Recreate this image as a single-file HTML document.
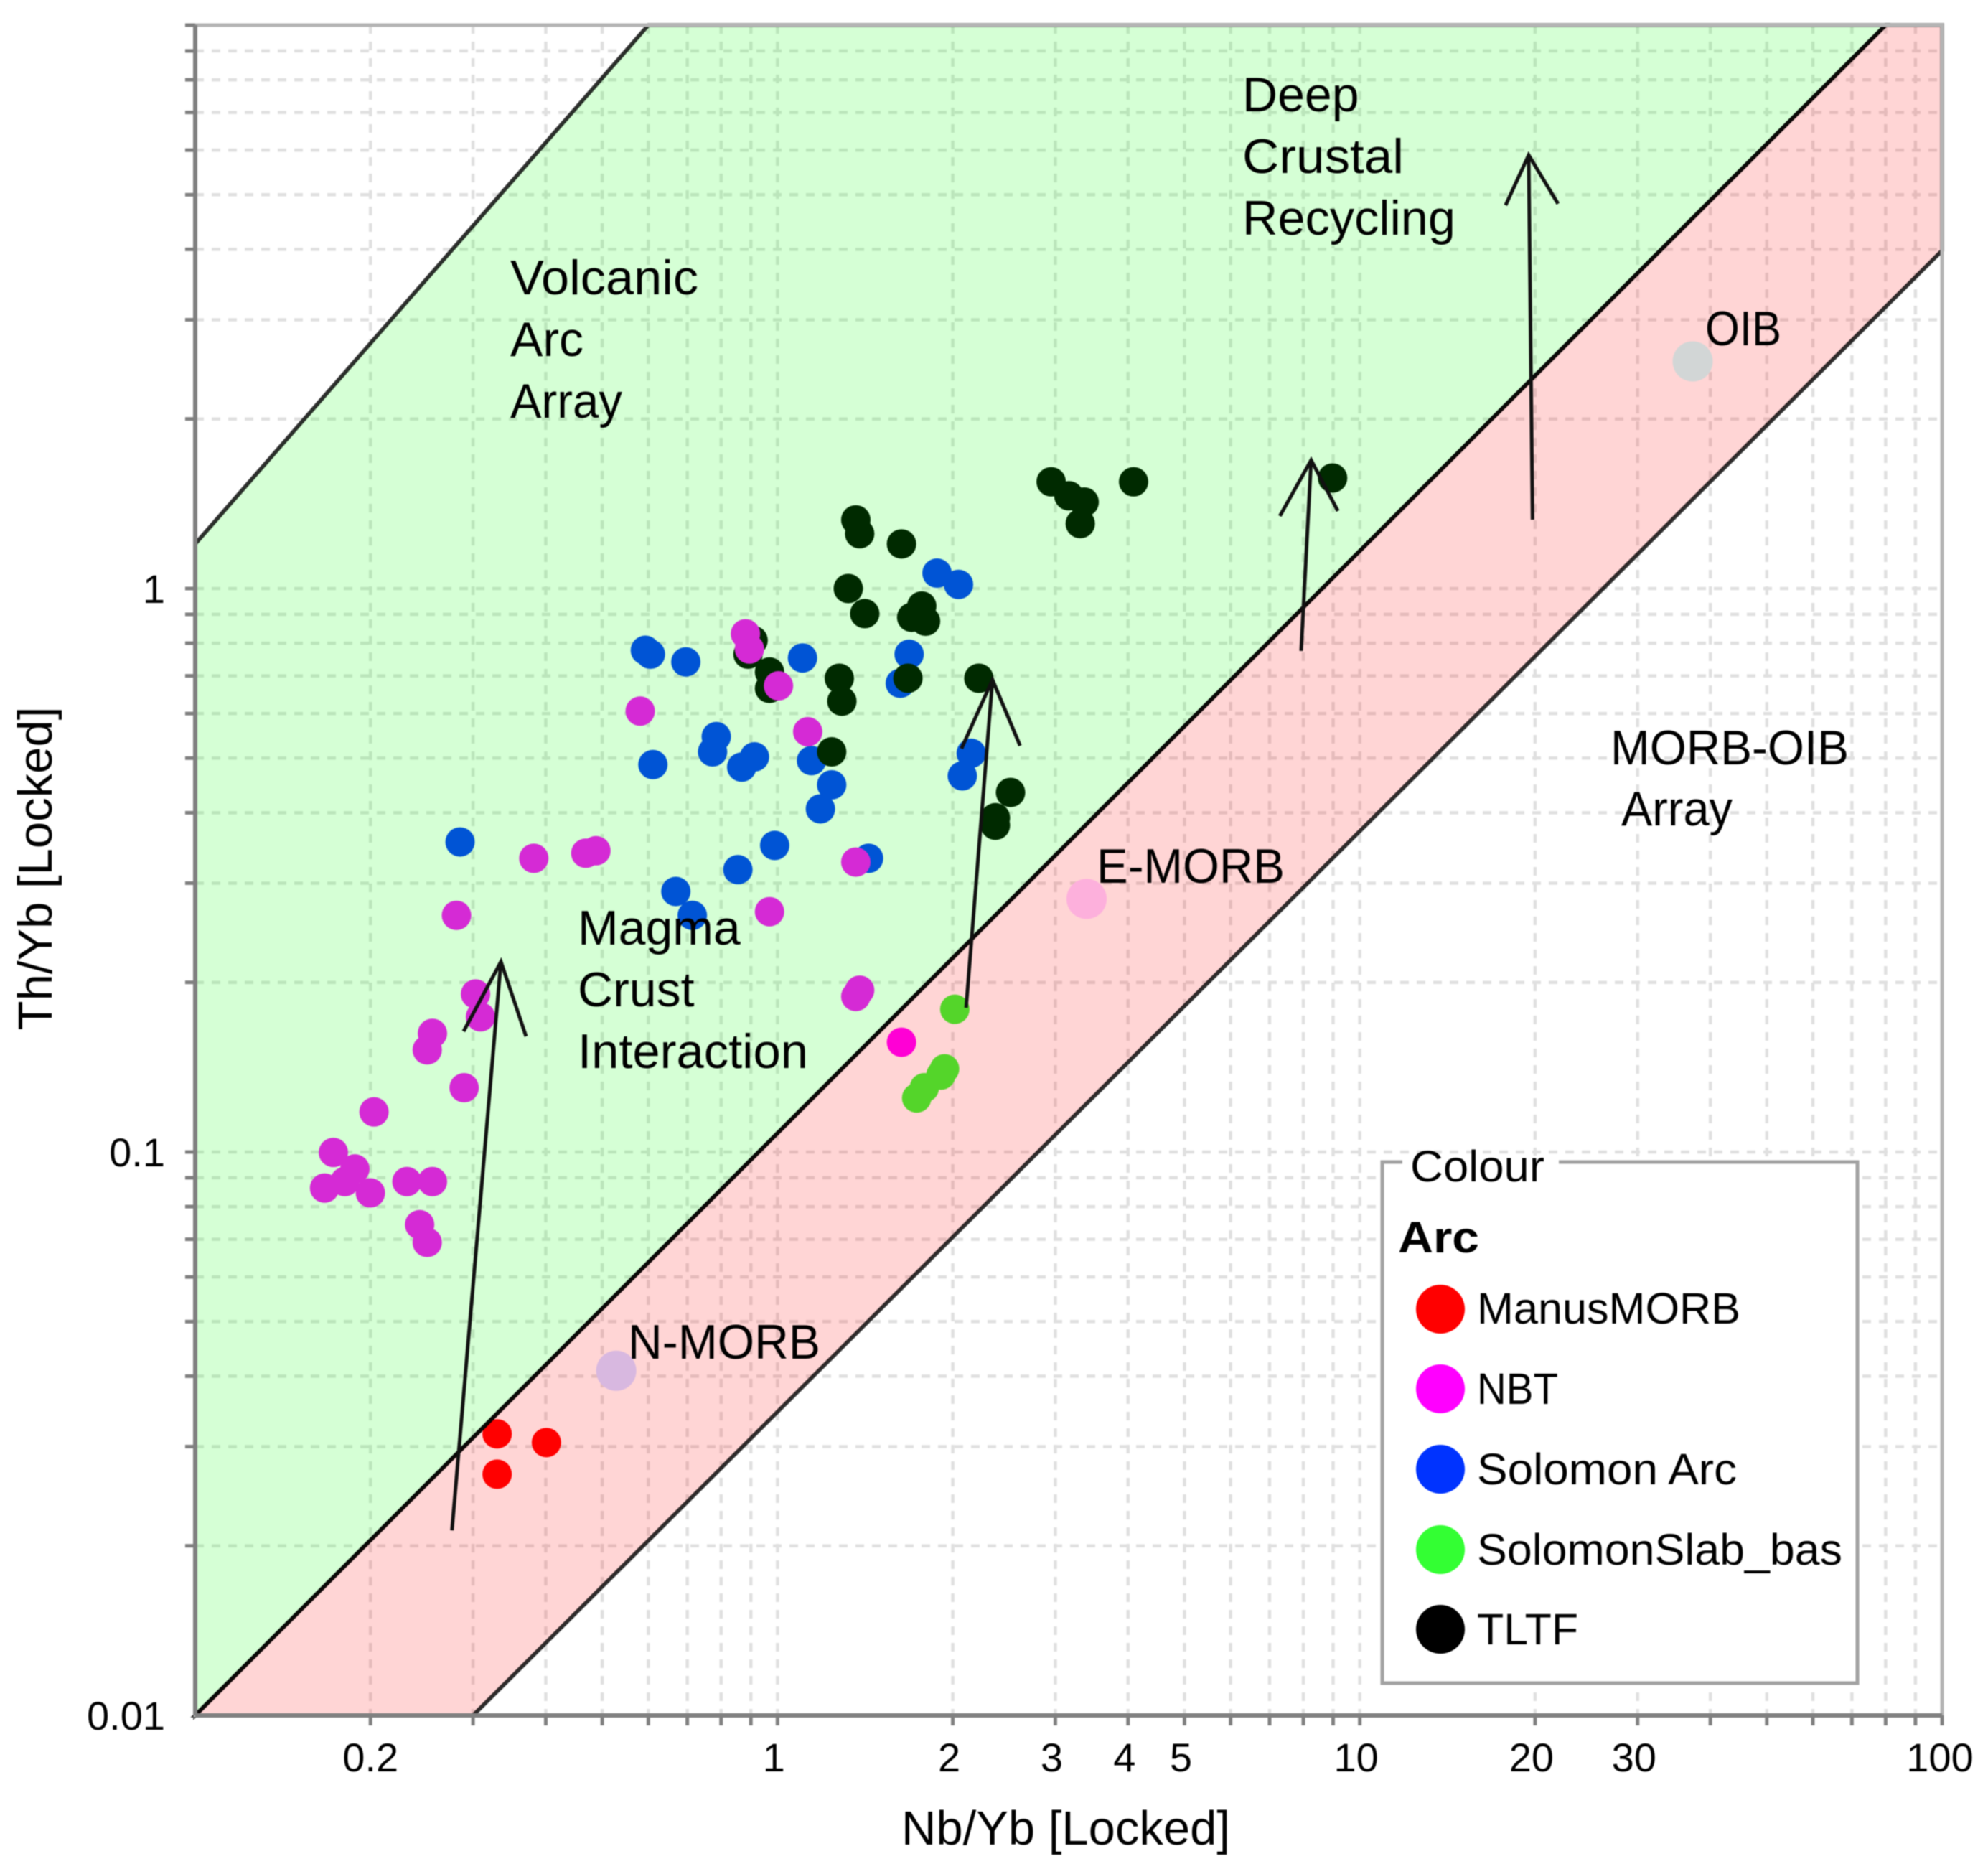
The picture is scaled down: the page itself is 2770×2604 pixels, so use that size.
<!DOCTYPE html>
<html lang="en">
<head>
<meta charset="utf-8">
<title>Th/Yb vs Nb/Yb discrimination diagram</title>
<style>
html,body{margin:0;padding:0;background:#fff;}
svg{display:block;width:2770px;height:2604px;font-family:"Liberation Sans",Arial,sans-serif;fill:#000;}
#root{filter:blur(0.8px);}
</style>
</head>
<body>
<svg id="chart" xmlns="http://www.w3.org/2000/svg" width="2770" height="2604" viewBox="0 0 2770 2604">
<g id="root">
<rect width="2770" height="2604" fill="#fff"/>
<g id="grid"></g>
<g id="points"></g>
<g id="regions"></g>
<g id="frame"></g>
<g id="refs"></g>
<g id="arrows"></g>

<g font-size="68">
  <text x="711" y="410" textLength="262" lengthAdjust="spacingAndGlyphs">Volcanic</text>
  <text x="711" y="496">Arc</text>
  <text x="711" y="582" textLength="156" lengthAdjust="spacingAndGlyphs">Array</text>
  <text x="1731" y="155">Deep</text>
  <text x="1731" y="241" textLength="225" lengthAdjust="spacingAndGlyphs">Crustal</text>
  <text x="1731" y="327" textLength="297" lengthAdjust="spacingAndGlyphs">Recycling</text>
  <text x="805" y="1316">Magma</text>
  <text x="805" y="1402">Crust</text>
  <text x="805" y="1488" textLength="321" lengthAdjust="spacingAndGlyphs">Interaction</text>
  <text x="875" y="1893" textLength="268" lengthAdjust="spacingAndGlyphs">N-MORB</text>
  <text x="1528" y="1230" textLength="262" lengthAdjust="spacingAndGlyphs">E-MORB</text>
  <text x="2376" y="481" textLength="106" lengthAdjust="spacingAndGlyphs">OIB</text>
  <text x="2244" y="1065" textLength="332" lengthAdjust="spacingAndGlyphs">MORB-OIB</text>
  <text x="2259" y="1150" textLength="155" lengthAdjust="spacingAndGlyphs">Array</text>
</g>

<g id="ticklabels" font-size="56"></g>

<text x="1485" y="2570" font-size="67" text-anchor="middle">Nb/Yb [Locked]</text>
<text transform="translate(72,1210) rotate(-90)" font-size="67" text-anchor="middle">Th/Yb [Locked]</text>

<g>
  <rect x="1926" y="1619" width="662" height="726" fill="#fff" stroke="#a2a2a2" stroke-width="5"/>
  <rect x="1954" y="1610" width="218" height="18" fill="#fff"/>
  <text x="1965" y="1646" font-size="61" textLength="187" lengthAdjust="spacingAndGlyphs">Colour</text>
  <text x="1948" y="1745" font-size="61" font-weight="bold" textLength="113" lengthAdjust="spacingAndGlyphs">Arc</text>
  <circle cx="2007" cy="1824" r="34" fill="#ff0000"/>
  <text x="2058" y="1844" font-size="61" textLength="367" lengthAdjust="spacingAndGlyphs">ManusMORB</text>
  <circle cx="2007" cy="1935" r="34" fill="#ff00ff"/>
  <text x="2058" y="1956" font-size="61" textLength="113" lengthAdjust="spacingAndGlyphs">NBT</text>
  <circle cx="2007" cy="2047" r="34" fill="#0033ff"/>
  <text x="2058" y="2068" font-size="61" textLength="362" lengthAdjust="spacingAndGlyphs">Solomon Arc</text>
  <circle cx="2007" cy="2159" r="34" fill="#33ff33"/>
  <text x="2058" y="2180" font-size="61" textLength="509" lengthAdjust="spacingAndGlyphs">SolomonSlab_bas</text>
  <circle cx="2007" cy="2270" r="34" fill="#000000"/>
  <text x="2058" y="2291" font-size="61">TLTF</text>
</g>
</g>
</svg>

<script>
// ---- axis ticks ----
const xGridValues = [0.2,0.3,0.4,0.5,0.6,0.7,0.8,0.9,1,2,3,4,5,6,7,8,9,10,20,30,40,50,60,70,80,90,100];
const yGridValues = [0.02,0.03,0.04,0.05,0.06,0.07,0.08,0.09,0.1,0.2,0.3,0.4,0.5,0.6,0.7,0.8,0.9,1,2,3,4,5,6,7,8,9,10];
const xTickLabels = [0.2,1,2,3,4,5,10,20,30,100];
const yTickLabels = [1,0.1,0.01];

// ---- series: ManusMORB ----
const manusX = [0.330,0.330,0.401];
const manusY = [0.0316,0.0268,0.0305];

// ---- series: SolomonSlab_bas ----
const slabX = [2.016,1.936,1.908,1.787,1.734];
const slabY = [0.1792,0.1405,0.1369,0.130,0.1247];

// ---- series: Solomon Arc ----
const solomonX = [0.593,0.605,0.696,1.104,1.683,1.625,1.879,2.046,0.785,0.7735,0.913,0.868,0.611,1.144,1.239,1.185,2.151,2.077,0.989,0.855,0.669,0.714,1.4335,0.285];
const solomonY = [0.777,0.7646,0.741,0.753,0.7646,0.679,1.065,1.017,0.546,0.513,0.5026,0.482,0.487,0.495,0.4484,0.4064,0.51,0.465,0.35,0.317,0.29,0.263,0.332,0.355];

// ---- series: TLTF ----
const tltfX = [1.363,1.384,1.633,1.323,1.412,1.769,1.70,1.796,0.908,0.89,0.969,0.969,1.277,1.29,1.675,2.217,1.239,2.513,2.367,2.367,2.951,3.165,3.362,3.311,4.088,8.98];
const tltfY = [1.324,1.251,1.2,1.0,0.9026,0.931,0.889,0.875,0.809,0.7646,0.711,0.665,0.693,0.631,0.693,0.693,0.513,0.4346,0.392,0.38,1.547,1.461,1.424,1.304,1.547,1.571];

// ---- series: NBT ----
const nbtX = [0.881,0.895,1.004,0.581,1.127,0.3815,0.4686,0.4877,1.363,0.281,0.969,1.384,1.363,0.303,0.309,0.2555,0.2503,0.2896,0.2028,0.1727,0.188,0.1807,0.1668,0.1999,0.231,0.2555,0.2429,0.2503,1.633];
const nbtY = [0.831,0.781,0.672,0.606,0.557,0.332,0.339,0.3425,0.327,0.263,0.267,0.1937,0.1888,0.1907,0.1737,0.1624,0.1518,0.13,0.1178,0.0998,0.0933,0.0886,0.0863,0.0846,0.0886,0.0886,0.0743,0.0691,0.1566];

// ---- reference compositions ----
const refNames = ['n-morb','e-morb','oib'];
const refX = [0.5285,3.395,37.3];
const refY = [0.0409,0.2813,2.53];

// ---- region boundaries (data units) ----
const volcanicArrayX = [0.1,0.1,0.6,80,0.1];
const volcanicArrayY = [0.01,1.2,10,10,0.01];
const morbOibArrayX = [0.1,80,100,100,0.3];
const morbOibArrayY = [0.01,10,10,3.98,0.01];

// ---- trend arrows (tail, tip, head-left, head-right) ----
const arrowX = [[0.276,0.335,0.289,0.370],[2.108,2.34,2.07,2.61],[7.93,8.25,7.29,9.17],[19.8,19.5,17.8,21.9]];
const arrowY = [[0.0213,0.2176,0.1637,0.1604],[0.1803,0.689,0.52,0.526],[0.775,1.69,1.345,1.373],[1.325,5.88,4.79,4.82]];

// ---- axis functions ----
const plotLeft = 272, plotRight = 2706, plotTop = 35, plotBottom = 2390;
function xScale(v){ return plotLeft + (Math.log10(v) + 1) / 3 * (plotRight - plotLeft); }
function yScale(v){ return plotTop + (1 - Math.log10(v)) / 3 * (plotBottom - plotTop); }

const NS = 'http://www.w3.org/2000/svg';
function make(tag, parent, props){
  const el = document.createElementNS(NS, tag);
  for (const k in props) el.setAttribute(k, props[k]);
  parent.appendChild(el);
  return el;
}
const gridG = document.getElementById('grid');
const pointsG = document.getElementById('points');
const regionsG = document.getElementById('regions');
const frameG = document.getElementById('frame');
const refsG = document.getElementById('refs');
const arrowsG = document.getElementById('arrows');
const labelsG = document.getElementById('ticklabels');

// grid
xGridValues.forEach(function(v){
  const l = make('line', gridG, {x1:xScale(v), x2:xScale(v), y1:plotTop, y2:plotBottom, stroke:'#e0e0e0', 'stroke-width':4.5, 'stroke-dasharray':'12 11'});
  
  
});
yGridValues.forEach(function(v){
  const l = make('line', gridG, {x1:plotLeft, x2:plotRight, y1:yScale(v), y2:yScale(v), stroke:'#e0e0e0', 'stroke-width':4.5, 'stroke-dasharray':'12 11'});
  
  
});

// points
function drawSeries(name, xs, ys, color){
  xs.forEach(function(x, i){
    const c = make('circle', pointsG, {cx:xScale(x), cy:yScale(ys[i]), r:20.5, fill:color});
    
    
  });
}
drawSeries('manusmorb', manusX, manusY, '#ff0000');
drawSeries('solomonslab-bas', slabX, slabY, '#33ff33');
drawSeries('solomon-arc', solomonX, solomonY, '#0033ff');
drawSeries('tltf', tltfX, tltfY, '#000000');
drawSeries('nbt', nbtX, nbtY, '#ff00ff');

// axis frame lines
function polyPoints(xs, ys){
  return xs.map(function(x, i){ return xScale(x) + ',' + yScale(ys[i]); }).join(' ');
}
const frameRect = make('rect', frameG, {x:plotLeft, y:plotTop, width:plotRight-plotLeft, height:plotBottom-plotTop, fill:'none', stroke:'#b4b4b4', 'stroke-width':5});


const leftAxis = make('line', frameG, {x1:plotLeft, x2:plotLeft, y1:plotTop, y2:plotBottom, stroke:'#808080', 'stroke-width':6});


const bottomAxis = make('line', frameG, {x1:plotLeft, x2:plotRight, y1:plotBottom, y2:plotBottom, stroke:'#808080', 'stroke-width':6});



// ticks
xGridValues.forEach(function(v){
  const t = make('line', frameG, {x1:xScale(v), x2:xScale(v), y1:plotBottom, y2:plotBottom+14, stroke:'#808080', 'stroke-width':5});
  
  
});
yGridValues.forEach(function(v){
  const t = make('line', frameG, {x1:plotLeft-14, x2:plotLeft, y1:yScale(v), y2:yScale(v), stroke:'#808080', 'stroke-width':5});
  
  
});

// regions sit above the points, translucent like the source plot
const greenPoly = make('polygon', regionsG, {points:polyPoints(volcanicArrayX, volcanicArrayY), fill:'rgb(0,255,0)', 'fill-opacity':0.165, stroke:'#000', 'stroke-opacity':0.82, 'stroke-width':5.5, 'stroke-linejoin':'miter'});


const pinkPoly = make('polygon', regionsG, {points:polyPoints(morbOibArrayX, morbOibArrayY), fill:'rgb(255,0,0)', 'fill-opacity':0.165, stroke:'#000', 'stroke-opacity':0.82, 'stroke-width':5.5, 'stroke-linejoin':'miter'});



// reference points
const refColors = ['#d8b8e0','#fdb0dc','#d2d6d6'];
refX.forEach(function(x, i){
  const c = make('circle', refsG, {cx:xScale(x), cy:yScale(refY[i]), r:28, fill:refColors[i]});
  
  
});

// arrows
arrowX.forEach(function(xs, i){
  const ys = arrowY[i];
  const d = 'M' + xScale(xs[0]) + ' ' + yScale(ys[0]) + ' L' + xScale(xs[1]) + ' ' + yScale(ys[1]) +
            ' M' + xScale(xs[2]) + ' ' + yScale(ys[2]) + ' L' + xScale(xs[1]) + ' ' + yScale(ys[1]) +
            ' L' + xScale(xs[3]) + ' ' + yScale(ys[3]);
  const p = make('path', arrowsG, {d:d, fill:'none', stroke:'#111', 'stroke-width':5, 'stroke-linejoin':'miter'});
  
  
});

// tick labels
xTickLabels.forEach(function(v){
  const nudge = (v >= 1 && v < 100) ? -5 : (v === 100 ? -3 : 0);
  const t = make('text', labelsG, {x:xScale(v) + nudge, y:2468, 'text-anchor':'middle'});
  t.textContent = String(v);
  
  
});
yTickLabels.forEach(function(v){
  const t = make('text', labelsG, {x:230, y:yScale(v)+20, 'text-anchor':'end'});
  t.textContent = String(v);
  
  
});
</script>
</body>
</html>
